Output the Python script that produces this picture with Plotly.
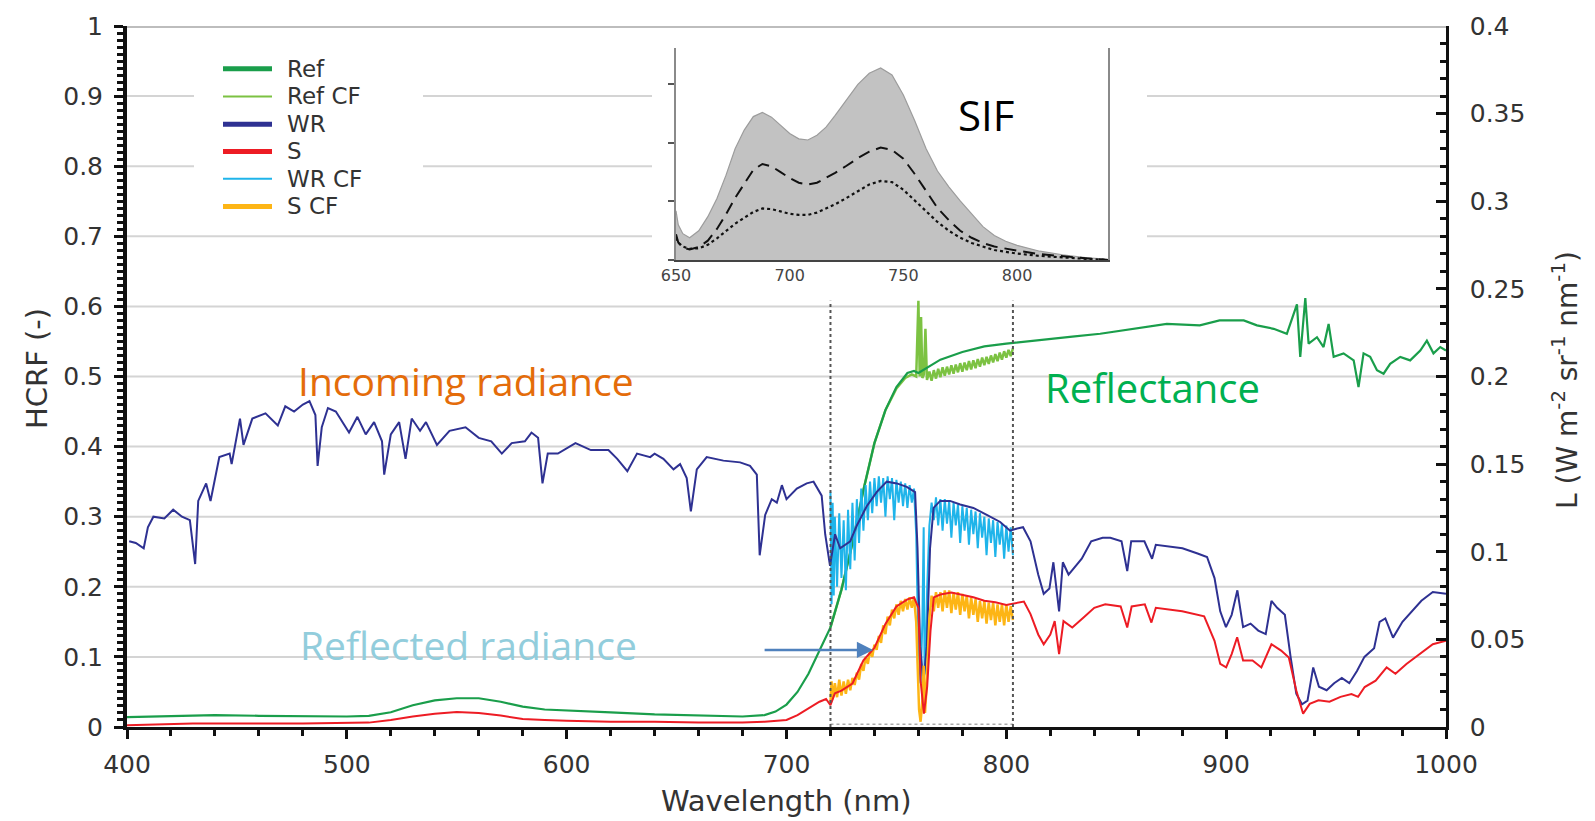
import plotly.graph_objects as go

# ---------------- DATA ----------------
# WR : incoming (white reference) radiance, W m-2 sr-1 nm-1
wr_nm = [401, 404, 407.6, 409.5, 412, 417, 421, 425, 428.6, 431, 432.4, 436, 438, 442, 446.7, 447.6,
         451.4, 453, 457, 463, 468.6, 472, 476, 480, 483, 485.7, 486.7, 488.6, 491.4, 495, 501, 504.8,
         508.6, 512.4, 516, 517, 520, 523.8, 526.7, 529.5, 533.3, 536, 541, 546.7, 554, 560, 565.7,
         570.5, 575, 581, 584, 587, 589, 591.4, 596, 604, 611, 619, 623, 627.6, 632, 638, 640, 644,
         648.6, 651.6, 654.6, 656.5, 659.2, 663.7, 671.3, 678.9, 683.4, 686.5, 687.8, 690.3, 693.3,
         695.6, 697.9, 700, 704.7, 709.2, 712.3, 716, 717.6, 719.8, 722.1, 724.4, 729, 732, 736.5,
         741, 745.6, 750.2, 754.7, 758.5, 759.6, 760.8, 762.3, 763.8, 765.3, 766.9, 769.9, 774.4,
         779, 785, 791.1, 797.2, 801.7, 804.1, 807.6, 811, 814.5, 817, 819.6, 821.4, 824, 825.7,
         828.3, 831.7, 834.3, 838.6, 843.8, 847.3, 852.4, 855, 856.8, 862.8, 866.3, 868, 873.2,
         880.1, 887, 891.3, 894.7, 897.3, 899.9, 902.5, 905.1, 907.7, 911.1, 914.6, 918, 920.6,
         923.2, 926.7, 929.3, 931.9, 934.5, 937, 939.6, 942.2, 945.7, 949.1, 952.6, 956, 959.5,
         962.9, 967.3, 969.8, 972.4, 975.9, 980.2, 984.5, 988.8, 994, 1000]
wr_val = [0.106, 0.105, 0.102, 0.114, 0.120, 0.119, 0.124, 0.120, 0.118, 0.093, 0.129, 0.139, 0.129,
          0.154, 0.156, 0.150, 0.176, 0.161, 0.176, 0.179, 0.172, 0.183, 0.180, 0.184, 0.186, 0.178,
          0.149, 0.171, 0.182, 0.180, 0.168, 0.177, 0.167, 0.174, 0.163, 0.144, 0.167, 0.174, 0.153,
          0.176, 0.169, 0.174, 0.161, 0.169, 0.171, 0.165, 0.163, 0.156, 0.162, 0.163, 0.168, 0.165,
          0.139, 0.156, 0.156, 0.162, 0.158, 0.158, 0.153, 0.146, 0.156, 0.154, 0.156, 0.153, 0.147,
          0.150, 0.142, 0.123, 0.147, 0.154, 0.152, 0.151, 0.149, 0.144, 0.098, 0.121, 0.130, 0.128,
          0.138, 0.130, 0.136, 0.139, 0.140, 0.132, 0.110, 0.092, 0.110, 0.102, 0.106, 0.115, 0.126,
          0.134, 0.140, 0.139, 0.137, 0.134, 0.102, 0.046, 0.025, 0.046, 0.102, 0.125, 0.129, 0.129,
          0.127, 0.125, 0.121, 0.117, 0.112, 0.113, 0.114, 0.106, 0.087, 0.076, 0.079, 0.094, 0.066,
          0.094, 0.087, 0.092, 0.096, 0.106, 0.108, 0.108, 0.106, 0.089, 0.106, 0.106, 0.096, 0.104,
          0.103, 0.102, 0.099, 0.097, 0.085, 0.066, 0.057, 0.064, 0.078, 0.057, 0.059, 0.055, 0.053,
          0.072, 0.068, 0.064, 0.040, 0.019, 0.013, 0.015, 0.034, 0.023, 0.021, 0.025, 0.028, 0.025,
          0.032, 0.040, 0.045, 0.060, 0.062, 0.051, 0.060, 0.066, 0.072, 0.077, 0.076]

# S : reflected (sample) radiance
s_nm = [400, 430, 450, 480, 510, 520, 530, 540, 550, 560, 570, 580, 590, 600, 620, 640, 660, 680, 690,
        700, 705, 710, 715, 718, 720, 722, 725, 730, 735, 740, 745, 750, 755, 758, 760, 761, 762.5,
        764, 765.5, 767, 770, 775, 780, 785, 790, 795, 800, 804, 808, 811, 814.5, 817, 820, 822, 824,
        826, 830, 835, 840, 845, 852, 855, 857, 863, 866, 868, 880, 890, 894.7, 897.3, 900, 902.5,
        905, 907.7, 912, 916, 920.6, 925, 928.5, 931.9, 935, 938, 942, 947, 952, 957, 960, 963, 968,
        973, 977, 982, 988, 994, 1000]
s_val = [0.001, 0.002, 0.002, 0.002, 0.0025, 0.004, 0.006, 0.0075, 0.0085, 0.008, 0.0065, 0.0045,
         0.004, 0.0035, 0.003, 0.003, 0.0025, 0.0025, 0.003, 0.004, 0.0068, 0.0108, 0.0144, 0.016,
         0.0124, 0.0192, 0.0208, 0.0248, 0.038, 0.0452, 0.0588, 0.0688, 0.0728, 0.074, 0.068, 0.0264,
         0.0076, 0.0232, 0.0548, 0.074, 0.0756, 0.0768, 0.0756, 0.074, 0.072, 0.0712, 0.0696, 0.0708,
         0.0716, 0.0644, 0.0528, 0.0472, 0.0528, 0.0604, 0.0416, 0.0604, 0.0568, 0.0624, 0.068, 0.070,
         0.0688, 0.0568, 0.0688, 0.070, 0.0596, 0.068, 0.066, 0.0632, 0.0492, 0.036, 0.034, 0.0416,
         0.0512, 0.038, 0.038, 0.034, 0.0472, 0.0436, 0.0396, 0.0208, 0.0076, 0.0132, 0.0152, 0.0144,
         0.0172, 0.0188, 0.0172, 0.0228, 0.0264, 0.034, 0.0304, 0.036, 0.0416, 0.0472, 0.0492]

# Ref : reflectance factor (HCRF)
ref_nm = [400, 420, 440, 460, 480, 500, 510, 520, 530, 540, 550, 560, 570, 580, 590, 600, 620, 640, 660,
          680, 690, 695, 700, 705, 710, 715, 720, 725, 730, 735, 740, 745, 750, 755, 758, 760, 765, 770,
          780, 790, 800, 810, 820, 830, 842.7, 857.9, 873, 888, 897, 908, 914, 921.6, 927.6, 932.2,
          933.7, 936, 937.5, 941.3, 944.3, 946.6, 948.9, 953.4, 958, 960.2, 962.5, 965.5, 968.6, 971.6,
          974.6, 979.2, 983.7, 988.3, 991.3, 994.3, 997.4, 1000]
ref_val = [0.014, 0.016, 0.017, 0.016, 0.015, 0.015, 0.016, 0.021, 0.031, 0.038, 0.041, 0.041, 0.036,
           0.029, 0.025, 0.024, 0.021, 0.018, 0.016, 0.015, 0.017, 0.022, 0.032, 0.050, 0.076, 0.108,
           0.142, 0.196, 0.262, 0.338, 0.405, 0.452, 0.485, 0.505, 0.508, 0.505, 0.514, 0.524, 0.535,
           0.543, 0.547, 0.550, 0.554, 0.557, 0.561, 0.568, 0.575, 0.573, 0.580, 0.580, 0.573, 0.568,
           0.561, 0.603, 0.528, 0.612, 0.547, 0.556, 0.542, 0.575, 0.528, 0.533, 0.523, 0.485, 0.533,
           0.528, 0.509, 0.504, 0.518, 0.528, 0.523, 0.537, 0.551, 0.533, 0.542, 0.537]

# Ref CF
refcf_nm = [720, 725, 730, 735, 740, 745, 750, 754, 757, 759, 760, 760.6, 761.2, 761.8, 762.5, 763.2,
            763.9, 765, 766, 767, 768, 769, 770, 771, 772, 773, 774, 775, 776, 777, 778, 779, 780, 781,
            782, 783, 784, 785, 786, 787, 788, 789, 790, 791, 792, 793, 794, 795, 796, 797, 798, 799,
            800, 801, 802, 803]
refcf_val = [0.142, 0.196, 0.262, 0.338, 0.405, 0.452, 0.483, 0.498, 0.503, 0.500, 0.608, 0.500, 0.585,
             0.498, 0.503, 0.568, 0.495, 0.507, 0.494, 0.509, 0.497, 0.511, 0.499, 0.513, 0.501, 0.514,
             0.503, 0.516, 0.504, 0.517, 0.506, 0.519, 0.507, 0.520, 0.509, 0.522, 0.510, 0.523, 0.512,
             0.525, 0.514, 0.527, 0.516, 0.528, 0.518, 0.530, 0.520, 0.532, 0.522, 0.534, 0.524, 0.536,
             0.527, 0.538, 0.529, 0.540]

# WR CF
wrcf_nm = [720, 720.5, 721, 721.5, 722, 723, 724, 725, 726, 727, 728, 729, 730, 731, 732, 733, 734, 735,
           736, 737, 738, 739, 740, 741, 742, 743, 744, 745, 746, 747, 748, 749, 750, 751, 752, 753, 754,
           755, 756, 757, 758, 759, 759.6, 760.3, 761, 761.8, 762.4, 762.8, 763.4, 764, 765, 766, 767,
           768, 769, 770, 771, 772, 773, 774, 775, 776, 777, 778, 779, 780, 781, 782, 783, 784, 785, 786,
           787, 788, 789, 790, 791, 792, 793, 794, 795, 796, 797, 798, 799, 800, 801, 802, 803]
wrcf_val = [0.134, 0.070, 0.128, 0.075, 0.120, 0.080, 0.122, 0.085, 0.118, 0.078, 0.124, 0.090, 0.128,
            0.095, 0.130, 0.105, 0.136, 0.112, 0.138, 0.118, 0.140, 0.122, 0.142, 0.126, 0.143, 0.128,
            0.142, 0.120, 0.143, 0.130, 0.142, 0.118, 0.141, 0.128, 0.140, 0.126, 0.139, 0.125, 0.138,
            0.128, 0.136, 0.110, 0.070, 0.040, 0.025, 0.060, 0.114, 0.030, 0.045, 0.080, 0.115, 0.128,
            0.118, 0.131, 0.115, 0.130, 0.112, 0.130, 0.116, 0.129, 0.108, 0.128, 0.115, 0.127, 0.105,
            0.126, 0.112, 0.125, 0.104, 0.124, 0.110, 0.123, 0.102, 0.122, 0.108, 0.120, 0.098, 0.119,
            0.105, 0.118, 0.097, 0.117, 0.104, 0.116, 0.096, 0.115, 0.100, 0.114, 0.098]

# S CF
scf_nm = [720, 720.5, 721, 722, 723, 724, 725, 726, 727, 728, 729, 730, 731, 732, 733, 734, 735, 736, 737,
          738, 739, 740, 741, 742, 743, 744, 745, 746, 747, 748, 749, 750, 751, 752, 753, 754, 755, 756,
          757, 758, 759, 759.6, 760.3, 761, 761.8, 762.4, 763, 763.6, 764.3, 765, 766, 767, 768, 769,
          770, 771, 772, 773, 774, 775, 776, 777, 778, 779, 780, 781, 782, 783, 784, 785, 786, 787, 788,
          789, 790, 791, 792, 793, 794, 795, 796, 797, 798, 799, 800, 801, 802, 803]
scf_val = [0.014, 0.026, 0.016, 0.025, 0.017, 0.027, 0.018, 0.026, 0.019, 0.027, 0.021, 0.028, 0.024,
           0.031, 0.027, 0.036, 0.032, 0.040, 0.036, 0.044, 0.040, 0.047, 0.044, 0.052, 0.048, 0.058,
           0.053, 0.063, 0.058, 0.067, 0.062, 0.070, 0.064, 0.072, 0.066, 0.073, 0.067, 0.074, 0.068,
           0.074, 0.060, 0.030, 0.010, 0.003, 0.015, 0.035, 0.008, 0.020, 0.045, 0.062, 0.075, 0.066,
           0.077, 0.068, 0.077, 0.066, 0.078, 0.068, 0.078, 0.065, 0.077, 0.067, 0.077, 0.064, 0.076,
           0.066, 0.075, 0.062, 0.074, 0.064, 0.073, 0.060, 0.072, 0.062, 0.072, 0.059, 0.071, 0.061,
           0.071, 0.058, 0.070, 0.060, 0.070, 0.058, 0.070, 0.060, 0.069, 0.061]

# Inset: SIF spectra
sif_nm = [650, 651, 653, 656, 660, 664, 668, 672, 676, 680, 684, 688, 692, 696, 700, 704, 708, 712, 716,
          720, 725, 730, 735, 740, 745, 750, 755, 760, 765, 770, 775, 780, 785, 790, 795, 800, 810, 820,
          830, 840]
sif_max = [0.84, 0.60, 0.45, 0.38, 0.50, 0.74, 1.05, 1.45, 1.90, 2.22, 2.45, 2.52, 2.44, 2.30, 2.16, 2.07,
           2.05, 2.13, 2.27, 2.47, 2.74, 3.00, 3.19, 3.28, 3.16, 2.82, 2.38, 1.90, 1.52, 1.25, 1.01, 0.78,
           0.57, 0.42, 0.32, 0.25, 0.15, 0.09, 0.04, 0.01]
sif_mean = [0.44, 0.30, 0.21, 0.18, 0.22, 0.33, 0.53, 0.78, 1.06, 1.30, 1.54, 1.64, 1.60, 1.50, 1.40, 1.32,
            1.29, 1.32, 1.40, 1.49, 1.61, 1.74, 1.85, 1.92, 1.88, 1.73, 1.47, 1.17, 0.89, 0.68, 0.50, 0.38,
            0.29, 0.23, 0.19, 0.16, 0.10, 0.06, 0.03, 0.0]
sif_min = [0.38, 0.30, 0.23, 0.19, 0.20, 0.26, 0.37, 0.50, 0.62, 0.72, 0.82, 0.88, 0.87, 0.83, 0.79, 0.77,
           0.77, 0.81, 0.88, 0.95, 1.06, 1.18, 1.29, 1.35, 1.33, 1.20, 1.02, 0.84, 0.65, 0.50, 0.38, 0.29,
           0.23, 0.17, 0.14, 0.11, 0.07, 0.04, 0.02, 0.0]

legend_names = ["Ref", "Ref CF", "WR", "S", "WR CF", "S CF"]
hcrf_grid = [0.1, 0.2, 0.3, 0.4, 0.5, 0.6, 0.7, 0.8, 0.9]

# ---------------- LAYOUT GEOMETRY ----------------
W, H = 1595, 821
ML, MR, MT, MB = 127, 149, 20, 94
PW = W - ML - MR
PH = H - MT - MB


def px(x):
    return (x - ML) / PW


def py(y):
    return (H - MB - y) / PH


C_REF = "#1a9e4b"
C_REFCF = "#7cc242"
C_WR = "#2e3192"
C_S = "#ed1c24"
C_WRCF = "#1fb4ea"
C_SCF = "#fdb515"
TICKFONT = dict(family="DejaVu Sans", size=25, color="#333333")

fig = go.Figure()

# main traces (CF bands first so the measured lines sit on top)
fig.add_trace(go.Scatter(x=refcf_nm, y=refcf_val, mode="lines", line=dict(color=C_REFCF, width=2.5),
                         name="Ref CF", showlegend=False, xaxis="x", yaxis="y"))
fig.add_trace(go.Scatter(x=ref_nm, y=ref_val, mode="lines", line=dict(color=C_REF, width=2.2),
                         name="Ref", showlegend=False, xaxis="x", yaxis="y"))
fig.add_trace(go.Scatter(x=wrcf_nm, y=wrcf_val, mode="lines", line=dict(color=C_WRCF, width=2),
                         name="WR CF", showlegend=False, xaxis="x", yaxis="y2"))
fig.add_trace(go.Scatter(x=wr_nm, y=wr_val, mode="lines", line=dict(color=C_WR, width=2),
                         name="WR", showlegend=False, xaxis="x", yaxis="y2"))
fig.add_trace(go.Scatter(x=scf_nm, y=scf_val, mode="lines", line=dict(color=C_SCF, width=2.5),
                         name="S CF", showlegend=False, xaxis="x", yaxis="y2"))
fig.add_trace(go.Scatter(x=s_nm, y=s_val, mode="lines", line=dict(color=C_S, width=2),
                         name="S", showlegend=False, xaxis="x", yaxis="y2"))

# inset traces
fig.add_trace(go.Scatter(x=sif_nm, y=sif_max, mode="lines", fill="tozeroy", fillcolor="#c2c2c2",
                         line=dict(color="#9c9c9c", width=1.2), showlegend=False,
                         xaxis="x3", yaxis="y3"))
fig.add_trace(go.Scatter(x=sif_nm, y=sif_mean, mode="lines", line=dict(color="#111111", width=2,
                         dash="12px,7px"), showlegend=False, xaxis="x3", yaxis="y3"))
fig.add_trace(go.Scatter(x=sif_nm, y=sif_min, mode="lines", line=dict(color="#111111", width=2.2,
                         dash="dot"), showlegend=False, xaxis="x3", yaxis="y3"))

shapes = []
# gridlines (interrupted behind legend and inset boxes)
x_leg0, x_leg1 = 400 + (194 - ML) / PW * 600, 400 + (423 - ML) / PW * 600
x_ins0, x_ins1 = 400 + (652 - ML) / PW * 600, 400 + (1147 - ML) / PW * 600
for g in hcrf_grid:
    if g <= 0.6:
        segs = [(400, 1000)]
    elif g < 0.75:
        segs = [(400, x_ins0), (x_ins1, 1000)]
    else:
        segs = [(400, x_leg0), (x_leg1, x_ins0), (x_ins1, 1000)]
    for a, b in segs:
        shapes.append(dict(type="line", xref="x", yref="y", x0=a, x1=b, y0=g, y1=g,
                           line=dict(color="#d4d4d4", width=2), layer="below"))
# thick top border
shapes.append(dict(type="line", xref="x", yref="y", x0=400, x1=1000, y0=1, y1=1,
                   line=dict(color="#bdbdbd", width=4), layer="below"))
# dotted window lines
for xv in (720, 803):
    shapes.append(dict(type="line", xref="x", yref="y", x0=xv, x1=xv, y0=0, y1=0.608,
                       line=dict(color="#555555", width=2, dash="dot"), layer="above"))
shapes.append(dict(type="line", xref="x", yref="y", x0=720, x1=803, y0=0.004, y1=0.004,
                   line=dict(color="#aaaaaa", width=1.5, dash="dot"), layer="below"))

# manual legend
leg_colors = [C_REF, C_REFCF, C_WR, C_S, C_WRCF, C_SCF]
leg_widths = [5, 2, 5, 5, 2, 5]
leg_y = [63, 91, 119, 146.5, 174, 202]
annotations = []
for name, col, lw, yy in zip(legend_names, leg_colors, leg_widths, leg_y):
    shapes.append(dict(type="line", xref="paper", yref="paper", x0=px(223), x1=px(272),
                       y0=py(yy), y1=py(yy), line=dict(color=col, width=lw)))
    annotations.append(dict(xref="paper", yref="paper", x=px(285), y=py(yy), text=name,
                            showarrow=False, xanchor="left", yanchor="middle",
                            font=dict(family="DejaVu Sans", size=23, color="#333333")))

# axis titles
annotations.append(dict(xref="paper", yref="paper", x=0.5, y=py(802), text="Wavelength (nm)",
                        showarrow=False, xanchor="center", yanchor="middle",
                        font=dict(family="DejaVu Sans", size=29, color="#333333")))
annotations.append(dict(xref="paper", yref="paper", x=px(37), y=py(366), text="HCRF (-)",
                        textangle=-90, showarrow=False, xanchor="center", yanchor="middle",
                        font=dict(family="DejaVu Sans", size=29, color="#333333")))
annotations.append(dict(xref="paper", yref="paper", x=px(1566), y=py(377),
                        text="L (W m<sup>-2</sup> sr<sup>-1</sup> nm<sup>-1</sup>)",
                        textangle=-90, showarrow=False, xanchor="center", yanchor="middle",
                        font=dict(family="DejaVu Sans", size=28, color="#333333")))

# text labels
annotations += [
    dict(xref="paper", yref="paper", x=px(466), y=py(378), text="Incoming radiance", showarrow=False,
         xanchor="center", yanchor="middle",
         font=dict(family="Open Sans", size=39, color="#e46c0a")),
    dict(xref="paper", yref="paper", x=px(1152), y=py(385), text="Reflectance", showarrow=False,
         xanchor="center", yanchor="middle",
         font=dict(family="Open Sans", size=40, color="#00b050")),
    dict(xref="paper", yref="paper", x=px(468), y=py(644), text="Reflected radiance", showarrow=False,
         xanchor="center", yanchor="middle",
         font=dict(family="Open Sans", size=39, color="#92cddc")),
    dict(xref="paper", yref="paper", x=px(986), y=py(109), text="SIF", showarrow=False,
         xanchor="center", yanchor="middle",
         font=dict(family="Open Sans", size=42, color="#000000")),
    dict(xref="x", yref="y", x=739.4, y=0.110, ax=-110, ay=0, text="", showarrow=True,
         arrowhead=2, arrowsize=1.3, arrowwidth=2.5, arrowcolor="#4f81bd"),
]

fig.update_layout(
    width=W, height=H,
    margin=dict(l=ML, r=MR, t=MT, b=MB),
    paper_bgcolor="white", plot_bgcolor="white",
    showlegend=False,
    shapes=shapes, annotations=annotations,
    xaxis=dict(range=[400, 1000], domain=[0, 1], anchor="y", showgrid=False, zeroline=False,
               showline=True, linecolor="#111111", linewidth=3,
               ticks="outside", ticklen=9, tickwidth=3, tickcolor="#111111",
               tick0=400, dtick=100, tickfont=TICKFONT, ticklabelstandoff=4,
               minor=dict(dtick=20, ticks="outside", ticklen=6, tickwidth=2.5, tickcolor="#111111")),
    yaxis=dict(range=[0, 1], domain=[0, 1], anchor="x", showgrid=False, zeroline=False,
               showline=True, linecolor="#111111", linewidth=4,
               ticks="outside", ticklen=9, tickwidth=3, tickcolor="#111111",
               tick0=0, dtick=0.1, tickfont=TICKFONT, ticklabelstandoff=6,
               minor=dict(dtick=0.01, ticks="outside", ticklen=6, tickwidth=2.5, tickcolor="#111111")),
    yaxis2=dict(range=[0, 0.4], overlaying="y", side="right", anchor="x", showgrid=False,
                zeroline=False, showline=True, linecolor="#111111", linewidth=2.5,
                ticks="inside", ticklen=10, tickwidth=3, tickcolor="#111111",
                tick0=0, dtick=0.05, tickfont=TICKFONT, ticklabelstandoff=16,
                minor=dict(dtick=0.01, ticks="inside", ticklen=6, tickwidth=2.5, tickcolor="#111111")),
    xaxis3=dict(range=[650, 840], domain=[px(676), px(1108)], anchor="y3", showgrid=False,
                zeroline=False, showline=True, linecolor="#444444", linewidth=2, ticks="",
                tickvals=[650, 700, 750, 800], tickfont=dict(family="DejaVu Sans", size=16,
                color="#444444")),
    yaxis3=dict(range=[0, 3.63], domain=[py(256), py(41.7)], anchor="x3", showgrid=False,
                zeroline=False, showline=True, linecolor="#8a8a8a", linewidth=1.5, mirror=True,
                ticks="outside", ticklen=6, tickwidth=1.5, tickcolor="#555555", dtick=1,
                showticklabels=False),
)

fig.write_html("out.html")
